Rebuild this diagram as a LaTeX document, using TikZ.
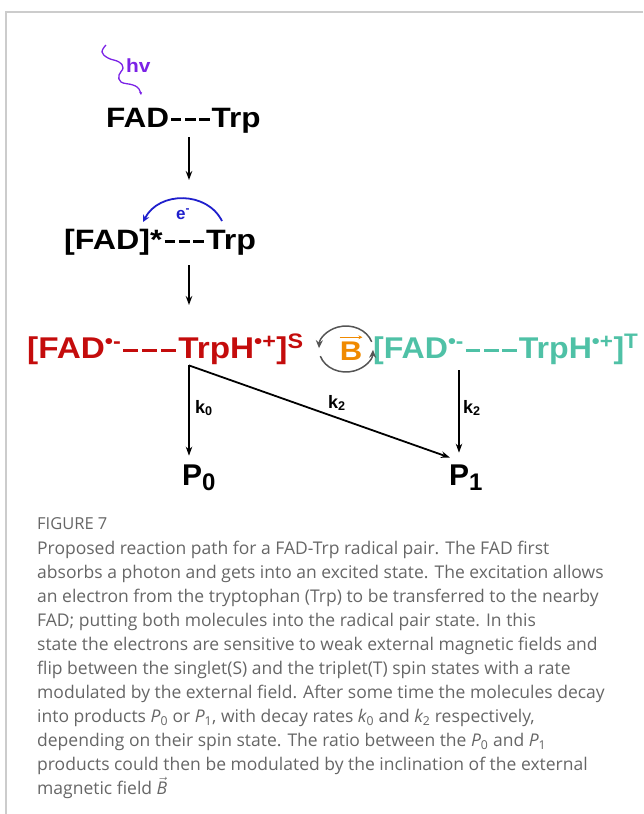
\documentclass[tikz,border=0pt]{standalone}
\usepackage{fontspec}
\setmainfont{Liberation Sans}
\newfontfamily\capfont{Open Sans}
\usetikzlibrary{arrows.meta,positioning}
\definecolor{singlet}{HTML}{C40C0C}
\definecolor{triplet}{HTML}{4FC1A6}
\definecolor{field}{HTML}{F08A00}
\definecolor{photon}{HTML}{7B22E6}
\definecolor{electron}{HTML}{1F1FCC}
\definecolor{cycle}{HTML}{555555}
\definecolor{captext}{HTML}{666666}
\definecolor{frame}{HTML}{CCCCCC}
\newcommand{\pxsize}[1]{\fontsize{#1}{#1}\selectfont}
\newcommand{\wide}[2]{\scalebox{#1}[1]{#2}}
\newcommand{\bond}[2]{\kern#1\rule[.2em]{#2}{.11em}\kern#1}
\newcommand{\bonds}[2]{\bond{#1}{#2}\bond{#1}{#2}\bond{#1}{#2}}

\begin{document}
\begin{tikzpicture}[x=1pt,y=1pt,
    mol/.style={inner sep=0pt,anchor=base west,font=\bfseries},
    prod/.style={inner sep=0pt,anchor=base west,font=\bfseries\pxsize{30}},
    rate/.style={inner sep=0pt,anchor=base west,font=\bfseries\pxsize{18}},
    react/.style={-{Stealth[length=9pt,width=6.5pt]},line width=1.8pt},
    flip/.style={-{Stealth[length=8pt,width=7pt]},line width=1.5pt,draw=cycle}
  ]
    \useasboundingbox (0,0) rectangle (643,-814);
    \draw[frame,line width=1.2pt] (643,-12) -- (6,-12) -- (6,-814);

    % species
    \node[mol,text=photon] (hv) at (126,-72) {\pxsize{19}\wide{1.1}{hv}};
    \node[mol] (ground) at (106,-127) {\pxsize{28}\wide{1.125}{FAD\bonds{.06em}{.33em}Trp}};
    \node[mol] (excited) at (64,-249) {\pxsize{28}\wide{1.15}{[FAD]*\bonds{.06em}{.33em}Trp}};
    \node[mol,text=electron] (elec) at (176,-219) {\pxsize{17}e\textsuperscript{-}};
    \node[mol,text=singlet] (pairS) at (27,-358) {\pxsize{30}\wide{1.11}{[FAD\textsuperscript{•-}\bonds{.06em}{.45em}TrpH\textsuperscript{•+}]\textsuperscript{S}}};
    \node[mol,text=triplet] (pairT) at (373,-358) {\pxsize{30}\wide{1.07}{[FAD\textsuperscript{•-}\bonds{.06em}{.45em}TrpH\textsuperscript{•+}]\textsuperscript{T}}};
    \node[mol,anchor=base,text=field] (bfield) at (351,-360) {\pxsize{27}\wide{1.15}{B}};
    \node[prod] (p0) at (182,-485) {P\raisebox{-5pt}{\pxsize{24}0}};
    \node[prod] (p1) at (449,-485) {P\raisebox{-5pt}{\pxsize{24}1}};
    \node[rate] (k0) at (195,-413) {k\textsubscript{0}};
    \node[rate] (k2s) at (328,-408) {k\textsubscript{2}};
    \node[rate] (k2t) at (463,-413) {k\textsubscript{2}};

    % photon and electron transfer
    \draw[photon,line width=1.3pt,-{Stealth[length=3pt,width=3pt]}] plot[smooth,tension=0.7] coordinates {(106,-45) (102,-52) (108,-58) (119,-62) (123,-68) (119,-75) (121,-82) (133,-85) (139,-89) (141,-95)};
    \coordinate (eR) at (222,-221);
    \coordinate (eL) at (143,-222);
    \draw[electron,line width=1.8pt,-{Stealth[length=7pt,width=7pt]}] (eR) .. controls (207,-191) and (159,-191) .. (eL);

    % reaction path
    \coordinate (axis) at (189,0);
    \coordinate (p1axis) at ([xshift=10pt]p1.north west);
    \draw[react] ([yshift=-4pt]ground.south -| axis) -- ++(0,-43);
    \draw[react] ([yshift=-10pt]excited.south -| axis) -- ++(0,-40);
    \coordinate (split) at ([yshift=-1pt]pairS.south -| axis);
    \draw[react] (split) -- ([yshift=8.5pt]p0.north -| axis);
    \draw[react] (split) -- ([xshift=1pt,yshift=6.5pt]p1.north west);
    \draw[react] ([yshift=-6pt]pairT.south -| p1axis) -- ([yshift=11.5pt]p1axis);

    % singlet-triplet flip
    \coordinate (flipc) at (346,-349);
    \draw[flip] ([shift={(18:27 and 23)}]flipc) arc[start angle=18,end angle=178,x radius=27,y radius=23];
    \draw[flip] ([shift={(198:27 and 23)}]flipc) arc[start angle=198,end angle=358,x radius=27,y radius=23];
    \draw[field,line width=1.1pt,-{Stealth[length=4pt,width=4pt]}] ([yshift=4pt]bfield.north west) -- ([yshift=4pt]bfield.north east);

    % caption
    \node[anchor=base west,inner sep=0pt,font=\capfont\pxsize{16.5},text=captext] (figlabel) at (37,-529) {FIGURE 7};
    \node[anchor=north west,inner sep=0pt,align=left,font=\capfont\fontsize{17.5}{24}\selectfont,text=captext] (caption) at (37,-541) {Proposed reaction path for a FAD-Trp radical pair. The FAD first\\
absorbs a photon and gets into an excited state. The excitation allows\\
an electron from the tryptophan (Trp) to be transferred to the nearby\\
FAD; putting both molecules into the radical pair state. In this\\
state the electrons are sensitive to weak external magnetic fields and\\
flip between the singlet(S) and the triplet(T) spin states with a rate\\
modulated by the external field. After some time the molecules decay\\
into products {\itshape P}\textsubscript{0} or {\itshape P}\textsubscript{1}, with decay rates {\itshape k}\textsubscript{0} and {\itshape k}\textsubscript{2} respectively,\\
depending on their spin state. The ratio between the {\itshape P}\textsubscript{0} and {\itshape P}\textsubscript{1}\\
products could then be modulated by the inclination of the external\\
magnetic field \(\vec{\mbox{\itshape B}}\)};
\end{tikzpicture}
\end{document}
